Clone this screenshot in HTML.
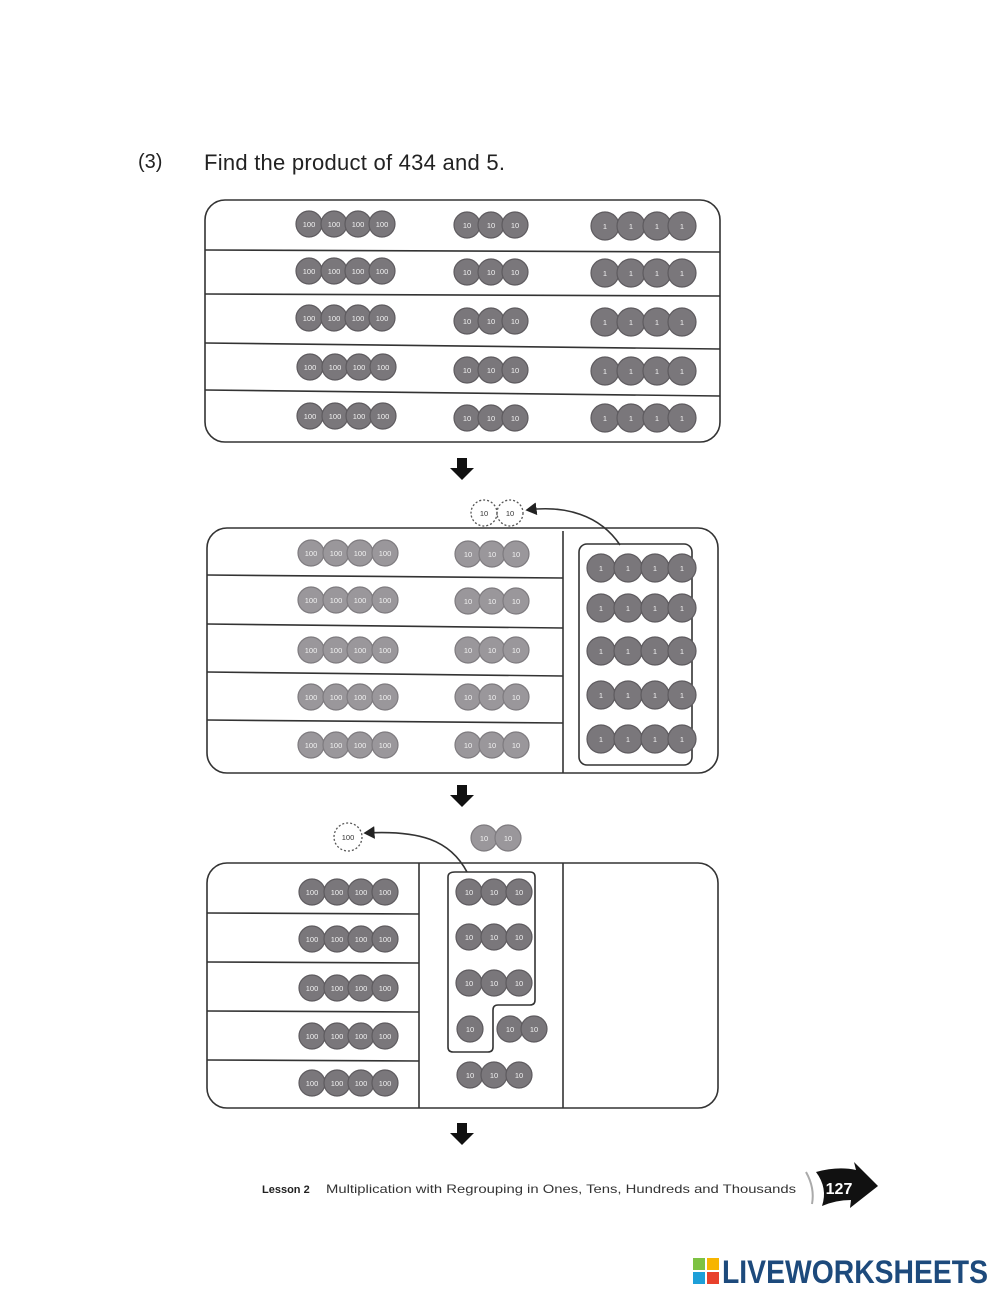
<!DOCTYPE html>
<html><head><meta charset="utf-8"><style>
html,body{margin:0;padding:0;background:#fff;}
svg{display:block;}
.c circle{fill:#7a777b;stroke:#5e5b5f;stroke-width:1.2;}
.l circle{fill:#9a979b;stroke:#7e7b7f;stroke-width:1.2;}
text.v{font-family:"Liberation Sans",sans-serif;font-size:7.5px;fill:#f2f2f2;text-anchor:middle;}
.ln{stroke:#333;stroke-width:1.6;fill:none;}
</style></head><body>
<svg width="1000" height="1294" viewBox="0 0 1000 1294" xmlns="http://www.w3.org/2000/svg">
<defs>
<marker id="ah" markerWidth="8" markerHeight="8" refX="6" refY="4" orient="auto"><path d="M0,0 L7,4 L0,8 z" fill="#222"/></marker>
</defs>
<text x="138" y="168" font-family="Liberation Sans, sans-serif" font-size="20" fill="#222">(3)</text>
<text x="204" y="170" font-family="Liberation Sans, sans-serif" font-size="22" fill="#222" textLength="301">Find the product of 434 and 5.</text>

<!-- Panel 1 -->
<rect x="205" y="200" width="515" height="242" rx="20" class="ln"/>
<line x1="205" y1="250" x2="720" y2="252" class="ln"/>
<line x1="205" y1="294" x2="720" y2="296" class="ln"/>
<line x1="205" y1="343" x2="720" y2="349" class="ln"/>
<line x1="205" y1="390" x2="720" y2="396" class="ln"/>
<g class="c">
<circle cx="309" cy="224" r="13"/><circle cx="334" cy="224" r="13"/><circle cx="358" cy="224" r="13"/><circle cx="382" cy="224" r="13"/>
<circle cx="467" cy="225" r="13"/><circle cx="491" cy="225" r="13"/><circle cx="515" cy="225" r="13"/>
<circle cx="605" cy="226" r="14"/><circle cx="631" cy="226" r="14"/><circle cx="657" cy="226" r="14"/><circle cx="682" cy="226" r="14"/>
<circle cx="309" cy="271" r="13"/><circle cx="334" cy="271" r="13"/><circle cx="358" cy="271" r="13"/><circle cx="382" cy="271" r="13"/>
<circle cx="467" cy="272" r="13"/><circle cx="491" cy="272" r="13"/><circle cx="515" cy="272" r="13"/>
<circle cx="605" cy="273" r="14"/><circle cx="631" cy="273" r="14"/><circle cx="657" cy="273" r="14"/><circle cx="682" cy="273" r="14"/>
<circle cx="309" cy="318" r="13"/><circle cx="334" cy="318" r="13"/><circle cx="358" cy="318" r="13"/><circle cx="382" cy="318" r="13"/>
<circle cx="467" cy="321" r="13"/><circle cx="491" cy="321" r="13"/><circle cx="515" cy="321" r="13"/>
<circle cx="605" cy="322" r="14"/><circle cx="631" cy="322" r="14"/><circle cx="657" cy="322" r="14"/><circle cx="682" cy="322" r="14"/>
<circle cx="310" cy="367" r="13"/><circle cx="335" cy="367" r="13"/><circle cx="359" cy="367" r="13"/><circle cx="383" cy="367" r="13"/>
<circle cx="467" cy="370" r="13"/><circle cx="491" cy="370" r="13"/><circle cx="515" cy="370" r="13"/>
<circle cx="605" cy="371" r="14"/><circle cx="631" cy="371" r="14"/><circle cx="657" cy="371" r="14"/><circle cx="682" cy="371" r="14"/>
<circle cx="310" cy="416" r="13"/><circle cx="335" cy="416" r="13"/><circle cx="359" cy="416" r="13"/><circle cx="383" cy="416" r="13"/>
<circle cx="467" cy="418" r="13"/><circle cx="491" cy="418" r="13"/><circle cx="515" cy="418" r="13"/>
<circle cx="605" cy="418" r="14"/><circle cx="631" cy="418" r="14"/><circle cx="657" cy="418" r="14"/><circle cx="682" cy="418" r="14"/>
</g>
<g>
<text class="v" x="309" y="227">100</text><text class="v" x="334" y="227">100</text><text class="v" x="358" y="227">100</text><text class="v" x="382" y="227">100</text>
<text class="v" x="467" y="228">10</text><text class="v" x="491" y="228">10</text><text class="v" x="515" y="228">10</text>
<text class="v" x="605" y="229">1</text><text class="v" x="631" y="229">1</text><text class="v" x="657" y="229">1</text><text class="v" x="682" y="229">1</text>
<text class="v" x="309" y="274">100</text><text class="v" x="334" y="274">100</text><text class="v" x="358" y="274">100</text><text class="v" x="382" y="274">100</text>
<text class="v" x="467" y="275">10</text><text class="v" x="491" y="275">10</text><text class="v" x="515" y="275">10</text>
<text class="v" x="605" y="276">1</text><text class="v" x="631" y="276">1</text><text class="v" x="657" y="276">1</text><text class="v" x="682" y="276">1</text>
<text class="v" x="309" y="321">100</text><text class="v" x="334" y="321">100</text><text class="v" x="358" y="321">100</text><text class="v" x="382" y="321">100</text>
<text class="v" x="467" y="324">10</text><text class="v" x="491" y="324">10</text><text class="v" x="515" y="324">10</text>
<text class="v" x="605" y="325">1</text><text class="v" x="631" y="325">1</text><text class="v" x="657" y="325">1</text><text class="v" x="682" y="325">1</text>
<text class="v" x="310" y="370">100</text><text class="v" x="335" y="370">100</text><text class="v" x="359" y="370">100</text><text class="v" x="383" y="370">100</text>
<text class="v" x="467" y="373">10</text><text class="v" x="491" y="373">10</text><text class="v" x="515" y="373">10</text>
<text class="v" x="605" y="374">1</text><text class="v" x="631" y="374">1</text><text class="v" x="657" y="374">1</text><text class="v" x="682" y="374">1</text>
<text class="v" x="310" y="419">100</text><text class="v" x="335" y="419">100</text><text class="v" x="359" y="419">100</text><text class="v" x="383" y="419">100</text>
<text class="v" x="467" y="421">10</text><text class="v" x="491" y="421">10</text><text class="v" x="515" y="421">10</text>
<text class="v" x="605" y="421">1</text><text class="v" x="631" y="421">1</text><text class="v" x="657" y="421">1</text><text class="v" x="682" y="421">1</text>
</g>

<path d="M457,458 h10 v10 h7 l-12,12 l-12,-12 h7 z" fill="#111"/>
<path d="M457,785 h10 v10 h7 l-12,12 l-12,-12 h7 z" fill="#111"/>
<path d="M457,1123 h10 v10 h7 l-12,12 l-12,-12 h7 z" fill="#111"/>

<!-- Panel 2 -->
<circle cx="484" cy="513" r="13" fill="none" stroke="#555" stroke-width="1.3" stroke-dasharray="2,2"/>
<circle cx="510" cy="513" r="13" fill="none" stroke="#555" stroke-width="1.3" stroke-dasharray="2,2"/>
<text x="484" y="516" font-family="Liberation Sans, sans-serif" font-size="7.5" text-anchor="middle" fill="#333">10</text>
<text x="510" y="516" font-family="Liberation Sans, sans-serif" font-size="7.5" text-anchor="middle" fill="#333">10</text>
<path d="M620,545 C600,515 565,505 527,510" class="ln" stroke-width="1.3" marker-end="url(#ah)"/>
<rect x="207" y="528" width="511" height="245" rx="20" class="ln"/>
<line x1="563" y1="531" x2="563" y2="773" class="ln"/>
<line x1="207" y1="575" x2="563" y2="578" class="ln"/>
<line x1="207" y1="624" x2="563" y2="628" class="ln"/>
<line x1="207" y1="672" x2="563" y2="676" class="ln"/>
<line x1="207" y1="720" x2="563" y2="723" class="ln"/>
<rect x="579" y="544" width="113" height="221" rx="8" class="ln"/>
<g class="l">
<circle cx="311" cy="553" r="13"/><circle cx="336" cy="553" r="13"/><circle cx="360" cy="553" r="13"/><circle cx="385" cy="553" r="13"/>
<circle cx="468" cy="554" r="13"/><circle cx="492" cy="554" r="13"/><circle cx="516" cy="554" r="13"/>
<circle cx="311" cy="600" r="13"/><circle cx="336" cy="600" r="13"/><circle cx="360" cy="600" r="13"/><circle cx="385" cy="600" r="13"/>
<circle cx="468" cy="601" r="13"/><circle cx="492" cy="601" r="13"/><circle cx="516" cy="601" r="13"/>
<circle cx="311" cy="650" r="13"/><circle cx="336" cy="650" r="13"/><circle cx="360" cy="650" r="13"/><circle cx="385" cy="650" r="13"/>
<circle cx="468" cy="650" r="13"/><circle cx="492" cy="650" r="13"/><circle cx="516" cy="650" r="13"/>
<circle cx="311" cy="697" r="13"/><circle cx="336" cy="697" r="13"/><circle cx="360" cy="697" r="13"/><circle cx="385" cy="697" r="13"/>
<circle cx="468" cy="697" r="13"/><circle cx="492" cy="697" r="13"/><circle cx="516" cy="697" r="13"/>
<circle cx="311" cy="745" r="13"/><circle cx="336" cy="745" r="13"/><circle cx="360" cy="745" r="13"/><circle cx="385" cy="745" r="13"/>
<circle cx="468" cy="745" r="13"/><circle cx="492" cy="745" r="13"/><circle cx="516" cy="745" r="13"/>
</g>
<g class="c">
<circle cx="601" cy="568" r="14"/><circle cx="628" cy="568" r="14"/><circle cx="655" cy="568" r="14"/><circle cx="682" cy="568" r="14"/>
<circle cx="601" cy="608" r="14"/><circle cx="628" cy="608" r="14"/><circle cx="655" cy="608" r="14"/><circle cx="682" cy="608" r="14"/>
<circle cx="601" cy="651" r="14"/><circle cx="628" cy="651" r="14"/><circle cx="655" cy="651" r="14"/><circle cx="682" cy="651" r="14"/>
<circle cx="601" cy="695" r="14"/><circle cx="628" cy="695" r="14"/><circle cx="655" cy="695" r="14"/><circle cx="682" cy="695" r="14"/>
<circle cx="601" cy="739" r="14"/><circle cx="628" cy="739" r="14"/><circle cx="655" cy="739" r="14"/><circle cx="682" cy="739" r="14"/>
</g>
<g>
<text class="v" x="311" y="556">100</text><text class="v" x="336" y="556">100</text><text class="v" x="360" y="556">100</text><text class="v" x="385" y="556">100</text>
<text class="v" x="468" y="557">10</text><text class="v" x="492" y="557">10</text><text class="v" x="516" y="557">10</text>
<text class="v" x="311" y="603">100</text><text class="v" x="336" y="603">100</text><text class="v" x="360" y="603">100</text><text class="v" x="385" y="603">100</text>
<text class="v" x="468" y="604">10</text><text class="v" x="492" y="604">10</text><text class="v" x="516" y="604">10</text>
<text class="v" x="311" y="653">100</text><text class="v" x="336" y="653">100</text><text class="v" x="360" y="653">100</text><text class="v" x="385" y="653">100</text>
<text class="v" x="468" y="653">10</text><text class="v" x="492" y="653">10</text><text class="v" x="516" y="653">10</text>
<text class="v" x="311" y="700">100</text><text class="v" x="336" y="700">100</text><text class="v" x="360" y="700">100</text><text class="v" x="385" y="700">100</text>
<text class="v" x="468" y="700">10</text><text class="v" x="492" y="700">10</text><text class="v" x="516" y="700">10</text>
<text class="v" x="311" y="748">100</text><text class="v" x="336" y="748">100</text><text class="v" x="360" y="748">100</text><text class="v" x="385" y="748">100</text>
<text class="v" x="468" y="748">10</text><text class="v" x="492" y="748">10</text><text class="v" x="516" y="748">10</text>
<text class="v" x="601" y="571">1</text><text class="v" x="628" y="571">1</text><text class="v" x="655" y="571">1</text><text class="v" x="682" y="571">1</text>
<text class="v" x="601" y="611">1</text><text class="v" x="628" y="611">1</text><text class="v" x="655" y="611">1</text><text class="v" x="682" y="611">1</text>
<text class="v" x="601" y="654">1</text><text class="v" x="628" y="654">1</text><text class="v" x="655" y="654">1</text><text class="v" x="682" y="654">1</text>
<text class="v" x="601" y="698">1</text><text class="v" x="628" y="698">1</text><text class="v" x="655" y="698">1</text><text class="v" x="682" y="698">1</text>
<text class="v" x="601" y="742">1</text><text class="v" x="628" y="742">1</text><text class="v" x="655" y="742">1</text><text class="v" x="682" y="742">1</text>
</g>

<!-- Panel 3 -->
<circle cx="348" cy="837" r="14" fill="none" stroke="#555" stroke-width="1.3" stroke-dasharray="2,2"/>
<text x="348" y="840" font-family="Liberation Sans, sans-serif" font-size="7.5" text-anchor="middle" fill="#333">100</text>
<path d="M467,872 C450,840 420,830 365,833" class="ln" stroke-width="1.3" marker-end="url(#ah)"/>
<g class="l"><circle cx="484" cy="838" r="13"/><circle cx="508" cy="838" r="13"/></g>
<text class="v" x="484" y="841">10</text><text class="v" x="508" y="841">10</text>
<rect x="207" y="863" width="511" height="245" rx="20" class="ln"/>
<line x1="419" y1="863" x2="419" y2="1108" class="ln"/>
<line x1="563" y1="863" x2="563" y2="1108" class="ln"/>
<line x1="207" y1="913" x2="419" y2="914" class="ln"/>
<line x1="207" y1="962" x2="419" y2="963" class="ln"/>
<line x1="207" y1="1011" x2="419" y2="1012" class="ln"/>
<line x1="207" y1="1060" x2="419" y2="1061" class="ln"/>
<path d="M455,872 H530 Q535,872 535,877 V1000 Q535,1005 530,1005 H498 Q493,1005 493,1010 V1047 Q493,1052 488,1052 H453 Q448,1052 448,1047 V877 Q448,872 455,872 Z" class="ln"/>
<g class="c">
<circle cx="312" cy="892" r="13"/><circle cx="337" cy="892" r="13"/><circle cx="361" cy="892" r="13"/><circle cx="385" cy="892" r="13"/>
<circle cx="312" cy="939" r="13"/><circle cx="337" cy="939" r="13"/><circle cx="361" cy="939" r="13"/><circle cx="385" cy="939" r="13"/>
<circle cx="312" cy="988" r="13"/><circle cx="337" cy="988" r="13"/><circle cx="361" cy="988" r="13"/><circle cx="385" cy="988" r="13"/>
<circle cx="312" cy="1036" r="13"/><circle cx="337" cy="1036" r="13"/><circle cx="361" cy="1036" r="13"/><circle cx="385" cy="1036" r="13"/>
<circle cx="312" cy="1083" r="13"/><circle cx="337" cy="1083" r="13"/><circle cx="361" cy="1083" r="13"/><circle cx="385" cy="1083" r="13"/>
<circle cx="469" cy="892" r="13"/><circle cx="494" cy="892" r="13"/><circle cx="519" cy="892" r="13"/>
<circle cx="469" cy="937" r="13"/><circle cx="494" cy="937" r="13"/><circle cx="519" cy="937" r="13"/>
<circle cx="469" cy="983" r="13"/><circle cx="494" cy="983" r="13"/><circle cx="519" cy="983" r="13"/>
<circle cx="470" cy="1029" r="13"/><circle cx="510" cy="1029" r="13"/><circle cx="534" cy="1029" r="13"/>
<circle cx="470" cy="1075" r="13"/><circle cx="494" cy="1075" r="13"/><circle cx="519" cy="1075" r="13"/>
</g>
<g>
<text class="v" x="312" y="895">100</text><text class="v" x="337" y="895">100</text><text class="v" x="361" y="895">100</text><text class="v" x="385" y="895">100</text>
<text class="v" x="312" y="942">100</text><text class="v" x="337" y="942">100</text><text class="v" x="361" y="942">100</text><text class="v" x="385" y="942">100</text>
<text class="v" x="312" y="991">100</text><text class="v" x="337" y="991">100</text><text class="v" x="361" y="991">100</text><text class="v" x="385" y="991">100</text>
<text class="v" x="312" y="1039">100</text><text class="v" x="337" y="1039">100</text><text class="v" x="361" y="1039">100</text><text class="v" x="385" y="1039">100</text>
<text class="v" x="312" y="1086">100</text><text class="v" x="337" y="1086">100</text><text class="v" x="361" y="1086">100</text><text class="v" x="385" y="1086">100</text>
<text class="v" x="469" y="895">10</text><text class="v" x="494" y="895">10</text><text class="v" x="519" y="895">10</text>
<text class="v" x="469" y="940">10</text><text class="v" x="494" y="940">10</text><text class="v" x="519" y="940">10</text>
<text class="v" x="469" y="986">10</text><text class="v" x="494" y="986">10</text><text class="v" x="519" y="986">10</text>
<text class="v" x="470" y="1032">10</text><text class="v" x="510" y="1032">10</text><text class="v" x="534" y="1032">10</text>
<text class="v" x="470" y="1078">10</text><text class="v" x="494" y="1078">10</text><text class="v" x="519" y="1078">10</text>
</g>

<!-- footer -->
<text x="262" y="1193" font-family="Liberation Sans, sans-serif" font-size="11" font-weight="bold" fill="#222">Lesson 2</text>
<text x="326" y="1193" font-family="Liberation Sans, sans-serif" font-size="12" fill="#333" textLength="470" lengthAdjust="spacingAndGlyphs">Multiplication with Regrouping in Ones, Tens, Hundreds and Thousands</text>
<path d="M816,1172 Q838,1166 856,1170 L854,1162 L878,1186 L850,1208 L851,1200 Q836,1200 822,1206 Q828,1188 816,1172 Z" fill="#111"/>
<path d="M806,1172 Q815,1188 812,1204" stroke="#aaa" stroke-width="2" fill="none"/>
<text x="839" y="1194" font-family="Liberation Sans, sans-serif" font-size="16" font-weight="bold" fill="#fff" text-anchor="middle">127</text>

<rect x="693" y="1258" width="12" height="12" fill="#7dc242"/>
<rect x="707" y="1258" width="12" height="12" fill="#f7b500"/>
<rect x="693" y="1272" width="12" height="12" fill="#1e9fd8"/>
<rect x="707" y="1272" width="12" height="12" fill="#e8412c"/>
<text x="722" y="1283" font-family="Liberation Sans, sans-serif" font-size="32" font-weight="bold" fill="#1d4a7c" textLength="266" lengthAdjust="spacingAndGlyphs">LIVEWORKSHEETS</text>
</svg>
</body></html>
